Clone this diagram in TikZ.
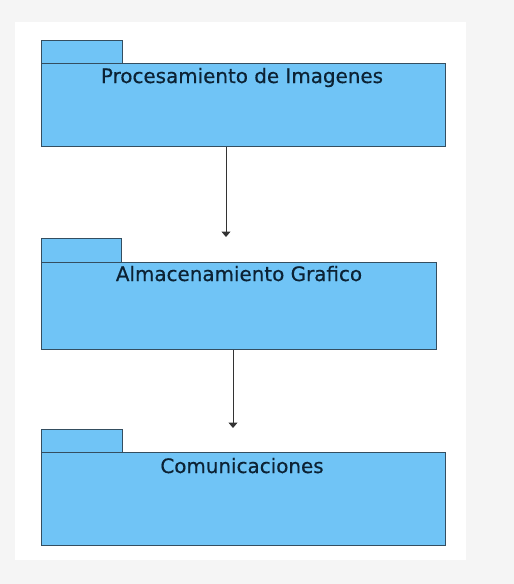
\documentclass[tikz,border=0pt]{standalone}
\usepackage{fontspec}
\setmainfont{DejaVu Sans}
\newfontfamily\pkgfont[FakeBold=0.5]{DejaVu Sans}
\usetikzlibrary{arrows.meta}
\definecolor{pkgfill}{RGB}{112,196,246}
\definecolor{pkgline}{RGB}{52,78,96}
\definecolor{pkgtext}{RGB}{12,34,52}
\definecolor{outerbg}{RGB}{245,245,245}
\tikzset{
  x=1pt,y=-1pt,
  pkgbody/.style={draw=pkgline,fill=pkgfill,line width=1.1pt,rectangle,inner sep=0pt,anchor=north west},
  pkgtab/.style={draw=pkgline,fill=pkgfill,line width=1.1pt,rectangle,inner sep=0pt,anchor=north west,minimum width=81pt,minimum height=23pt},
  pkglabel/.style={text=pkgtext,font=\pkgfont\fontsize{19.9}{22}\selectfont,inner sep=0pt,anchor=base},
  dep/.style={draw=black!80,line width=1pt,-{Triangle[length=5.5pt,width=9pt]}}
}
\begin{document}
\begin{tikzpicture}
\fill[outerbg] (0,0) rectangle (514,584);
\fill[white] (15,22) rectangle (466,560);
\useasboundingbox (0,0) rectangle (514,584);
% package 1
\node[pkgtab] (t1) at (41,40) {};
\node[pkgbody,minimum width=404pt,minimum height=83pt] (p1) at (41,63) {};
\node[pkglabel] (l1) at (242,83) {Procesamiento de Imagenes};
% package 2
\node[pkgtab,minimum width=80pt,minimum height=24pt] (t2) at (41,238) {};
\node[pkgbody,minimum width=395pt,minimum height=87pt] (p2) at (41,262) {};
\node[pkglabel] (l2) at (239,281) {Almacenamiento Grafico};
% package 3
\node[pkgtab] (t3) at (41,429) {};
\node[pkgbody,minimum width=404pt,minimum height=93pt] (p3) at (41,452) {};
\node[pkglabel] (l3) at (242,473) {Comunicaciones};
% dependencies
\coordinate (e1) at (226,237);
\coordinate (e2) at (233,428);
\draw[dep] (p1.south -| e1) -- (e1);
\draw[dep] (p2.south -| e2) -- (e2);
\end{tikzpicture}
\end{document}
